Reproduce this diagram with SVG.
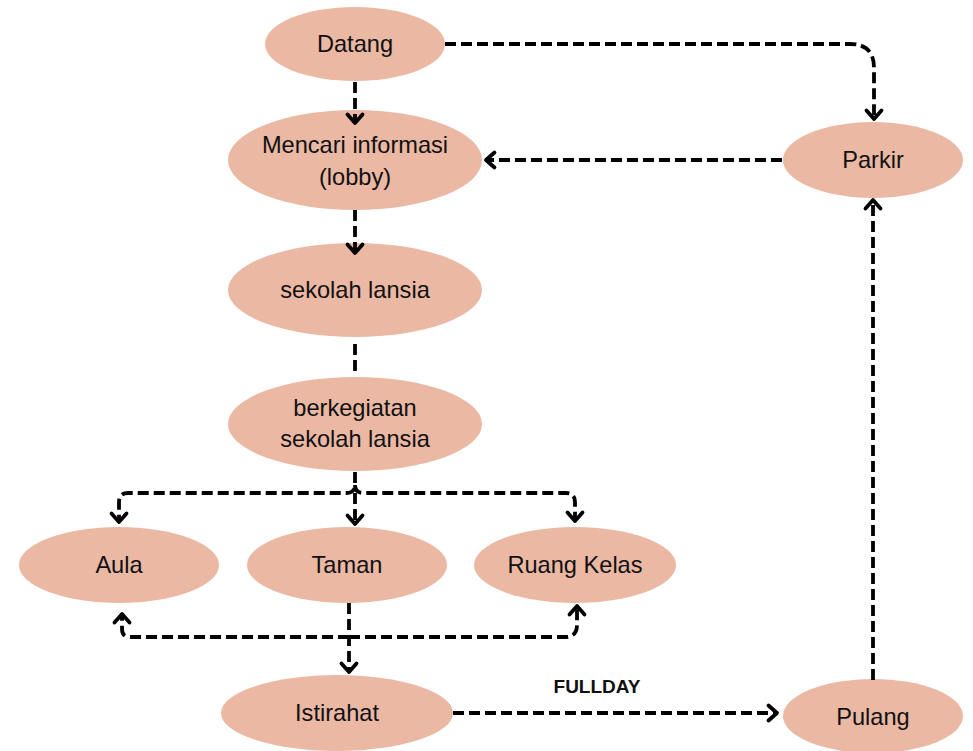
<svg xmlns="http://www.w3.org/2000/svg" width="973" height="751" viewBox="0 0 973 751">
<defs>
<style>
.node ellipse{fill:#ebb8a4;}
.node text{font-family:"Liberation Sans",Arial,sans-serif;font-size:23.6px;fill:#111;text-anchor:middle;}
.conn path{fill:none;stroke:#000;stroke-width:3.8;stroke-dasharray:11 5;}
.lbl{font-family:"Liberation Sans",Arial,sans-serif;font-size:19px;font-weight:bold;fill:#111;text-anchor:middle;}
</style>
<marker id="ah" markerUnits="userSpaceOnUse" markerWidth="22" markerHeight="22" viewBox="-13 -11 18 22" refX="0" refY="0" orient="auto">
<path d="M-8.5,-7.5 L0,0 L-8.5,7.5" fill="none" stroke="#000" stroke-width="3.8" stroke-linecap="round" stroke-linejoin="round"/>
</marker>
</defs>
<rect width="973" height="751" fill="#fff"/>
<g id="nodes">
<g id="datang" class="node"><ellipse cx="355" cy="44" rx="90" ry="37"/><text x="355" y="52">Datang</text></g>
<g id="mencari" class="node"><ellipse cx="355" cy="160" rx="127" ry="50"/><text x="355" y="153">Mencari informasi</text><text x="355" y="185">(lobby)</text></g>
<g id="sekolah" class="node"><ellipse cx="355" cy="290" rx="127" ry="47"/><text x="355" y="298">sekolah lansia</text></g>
<g id="berkegiatan" class="node"><ellipse cx="355" cy="424" rx="127" ry="47"/><text x="355" y="416">berkegiatan</text><text x="355" y="447">sekolah lansia</text></g>
<g id="aula" class="node"><ellipse cx="119" cy="565" rx="100" ry="38"/><text x="119" y="573">Aula</text></g>
<g id="taman" class="node"><ellipse cx="347" cy="565" rx="100" ry="38"/><text x="347" y="573">Taman</text></g>
<g id="ruang" class="node"><ellipse cx="575" cy="565" rx="101" ry="38"/><text x="575" y="573">Ruang Kelas</text></g>
<g id="istirahat" class="node"><ellipse cx="337" cy="713" rx="116" ry="38"/><text x="337" y="721">Istirahat</text></g>
<g id="pulang" class="node"><ellipse cx="873" cy="716" rx="90" ry="37"/><text x="873" y="725">Pulang</text></g>
<g id="parkir" class="node"><ellipse cx="873" cy="160" rx="90" ry="38"/><text x="873" y="168">Parkir</text></g>
</g>
<g id="connectors" class="conn">
<path d="M355,82 L355,123" marker-end="url(#ah)"/>
<path d="M445,44 L850,44 Q874,44 874,68 L874,119" marker-end="url(#ah)"/>
<path d="M782,160 L486,160" marker-end="url(#ah)"/>
<path d="M355,210 L355,253" marker-end="url(#ah)"/>
<path d="M355,344 L355,373"/>
<path d="M355,472 L355,485 Q355,493 346,493 L128,493 Q119,493 119,502 L119,522" marker-end="url(#ah)"/>
<path d="M355,485 Q355,493 364,493 L566,493 Q575,493 575,502 L575,521" marker-end="url(#ah)"/>
<path d="M355,493 L355,524" marker-end="url(#ah)"/>
<path d="M349,603 L349,672" marker-end="url(#ah)"/>
<path d="M349,637 L130,637 Q122,637 122,629 L122,614" marker-end="url(#ah)"/>
<path d="M349,637 L565,637 Q577,637 577,625 L577,606" marker-end="url(#ah)"/>
<path d="M453,713 L777,713" marker-end="url(#ah)"/>
<path d="M873,680 L873,200" marker-end="url(#ah)"/>
<text class="lbl" x="597" y="693" style="stroke:none">FULLDAY</text>
</g>
</svg>
